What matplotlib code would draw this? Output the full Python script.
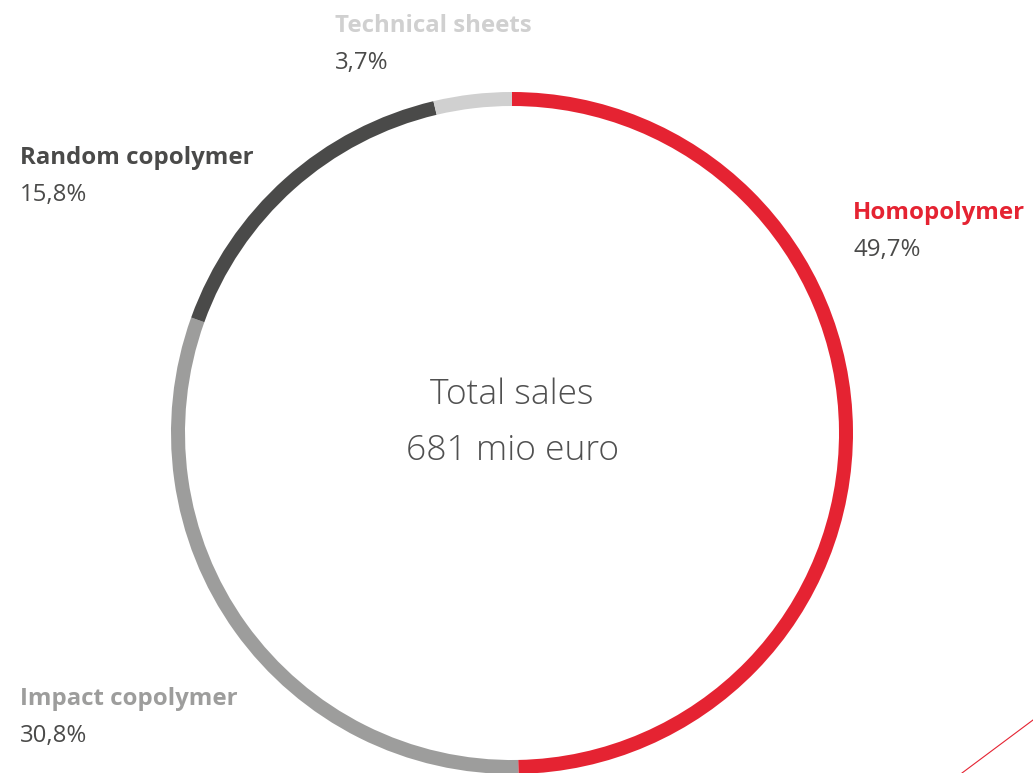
import matplotlib.pyplot as plt
from matplotlib.lines import Line2D

categories = ['Homopolymer', 'Impact copolymer', 'Random copolymer', 'Technical sheets']
shares = [49.7, 30.8, 15.8, 3.7]
share_labels = ['49,7%', '30,8%', '15,8%', '3,7%']
colors = ['#E52332', '#9D9D9C', '#4A4A49', '#D0D0D0']
label_colors = ['#E52332', '#9D9D9C', '#4A4A49', '#D0D0D0']
center_lines = ['Total sales', '681 mio euro']

W, H = 1033, 773
fig = plt.figure(figsize=(W / 100, H / 100), dpi=100)
ax = fig.add_axes([0, 0, 1, 1])
ax.set_xlim(0, W)
ax.set_ylim(0, H)
ax.set_aspect('equal')
ax.axis('off')

# ring, clockwise from 12 o'clock
ax.pie(shares, colors=colors, startangle=90, counterclock=False,
       center=(512, H - 433), radius=341,
       wedgeprops=dict(width=14, linewidth=0))
ax.set_xlim(0, W)
ax.set_ylim(0, H)

font = 'Open Sans'
# label positions (pixel coords from top-left)
pos = {'Homopolymer': (853, 213), 'Impact copolymer': (20, 699),
       'Random copolymer': (20, 158), 'Technical sheets': (335, 26)}
for cat, lab, col in zip(categories, share_labels, label_colors):
    x, y = pos[cat]
    ax.text(x, H - y, cat, fontsize=17.3, fontweight='bold', color=col,
            family=font, ha='left', va='center')
    ax.text(x, H - y - 37, lab, fontsize=17.3, color='#4A4A49',
            family=font, ha='left', va='center')

ax.text(512, H - 395, center_lines[0], fontsize=25.5, color='#505050',
        family=font, fontweight='light', ha='center', va='center')
ax.text(512, H - 451, center_lines[1], fontsize=25.5, color='#505050',
        family=font, fontweight='light', ha='center', va='center')

# decorative line in the corner
fig.add_artist(Line2D([962 / W, 1.0], [0.0, (H - 720) / H],
                      transform=fig.transFigure, color='#E52332', lw=0.8))

fig.savefig('out.png', dpi=100)
